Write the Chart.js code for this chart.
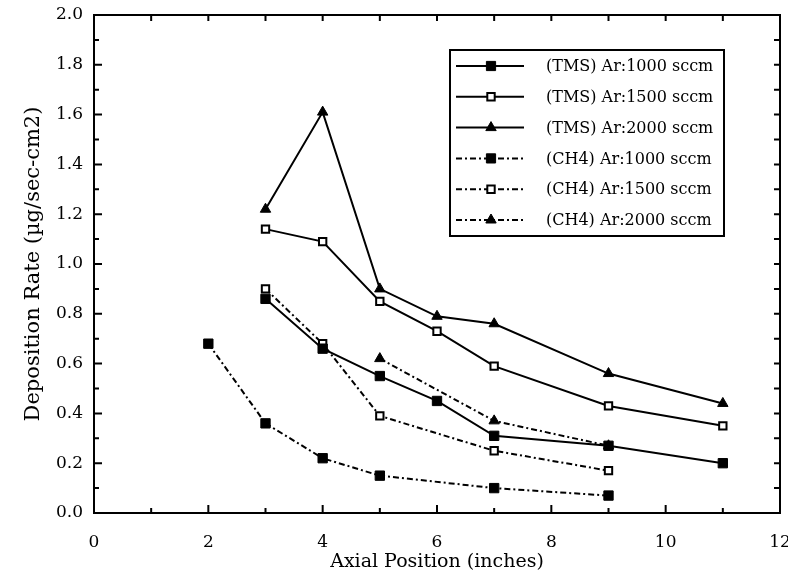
<!DOCTYPE html>
<html>
<head>
<meta charset="utf-8">
<script src="https://cdn.jsdelivr.net/npm/chart.js@4.4.1/dist/chart.umd.min.js"></script>
<style>
  body { margin: 0; background: #fff; }
  canvas { display: block; }
</style>
</head>
<body>
<canvas id="depChart" width="788" height="577"></canvas>
<script>
// values
var posTMS = [3, 4, 5, 6, 7, 9, 11];
var tms1000 = [0.86, 0.66, 0.55, 0.45, 0.31, 0.27, 0.20];
var tms1500 = [1.14, 1.09, 0.85, 0.73, 0.59, 0.43, 0.35];
var tms2000 = [1.22, 1.61, 0.90, 0.79, 0.76, 0.56, 0.44];

var posCH4_1000 = [2, 3, 4, 5, 7, 9];
var ch4_1000 = [0.68, 0.36, 0.22, 0.15, 0.10, 0.07];
var posCH4_1500 = [3, 4, 5, 7, 9];
var ch4_1500 = [0.90, 0.68, 0.39, 0.25, 0.17];
var posCH4_2000 = [5, 7, 9];
var ch4_2000 = [0.62, 0.37, 0.27];

var seriesLabels = [
    '(TMS) Ar:1000 sccm', '(TMS) Ar:1500 sccm', '(TMS) Ar:2000 sccm',
    '(CH4) Ar:1000 sccm', '(CH4) Ar:1500 sccm', '(CH4) Ar:2000 sccm'
];
var xTicks = [0, 2, 4, 6, 8, 10, 12];
var yTicks = [0.0, 0.2, 0.4, 0.6, 0.8, 1.0, 1.2, 1.4, 1.6, 1.8, 2.0];

var FONT = 'DejaVu Serif';
var DASHDOT = [6, 3, 2, 3];

function pts(xs, ys) {
    return xs.map(function (x, i) { return {x: x, y: ys[i]}; });
}

function makeSet(label, xs, ys, style, fill, dashed) {
    var hollow = fill === '#fff';
    return {
        label: label,
        data: pts(xs, ys),
        borderColor: '#000',
        borderWidth: 2,
        borderDash: dashed ? DASHDOT : [],
        pointStyle: style,
        pointRadius: style === 'triangle' ? 6 : (hollow ? 5.2 : 6.6),
        pointBackgroundColor: fill,
        pointBorderColor: '#000',
        pointBorderWidth: hollow ? 2 : 1,
        fill: false,
        tension: 0
    };
}

var datasets = [
    makeSet(seriesLabels[0], posTMS, tms1000, 'rect', '#000', false),
    makeSet(seriesLabels[1], posTMS, tms1500, 'rect', '#fff', false),
    makeSet(seriesLabels[2], posTMS, tms2000, 'triangle', '#000', false),
    makeSet(seriesLabels[3], posCH4_1000, ch4_1000, 'rect', '#000', true),
    makeSet(seriesLabels[4], posCH4_1500, ch4_1500, 'rect', '#fff', true),
    makeSet(seriesLabels[5], posCH4_2000, ch4_2000, 'triangle', '#000', true)
];

function drawMarker(ctx, style, fill, x, y) {
    ctx.save();
    ctx.setLineDash([]);
    ctx.fillStyle = fill;
    ctx.strokeStyle = '#000';
    ctx.beginPath();
    if (style === 'triangle') {
        ctx.lineWidth = 1;
        ctx.moveTo(x, y - 6);
        ctx.lineTo(x + 5.2, y + 3);
        ctx.lineTo(x - 5.2, y + 3);
        ctx.closePath();
    } else if (fill === '#fff') {
        ctx.lineWidth = 2;
        ctx.rect(x - 3.7, y - 3.7, 7.4, 7.4);
    } else {
        ctx.lineWidth = 1;
        ctx.rect(x - 4.6, y - 4.6, 9.2, 9.2);
    }
    ctx.fill();
    ctx.stroke();
    ctx.restore();
}

// frame, inward ticks and boxed legend
var framePlugin = {
    id: 'frame',
    afterDraw: function (chart) {
        var ctx = chart.ctx;
        var a = chart.chartArea;
        var xs = chart.scales.x, ys = chart.scales.y;
        var i, v, p;
        ctx.save();
        ctx.strokeStyle = '#000';
        ctx.lineWidth = 2;
        ctx.strokeRect(a.left, a.top, a.right - a.left, a.bottom - a.top);

        ctx.beginPath();
        for (i = 0; i <= 12; i++) {
            p = xs.getPixelForValue(i);
            ctx.moveTo(p, a.bottom);
            ctx.lineTo(p, a.bottom - (i % 2 === 0 ? 8 : 5));
            ctx.moveTo(p, a.top);
            ctx.lineTo(p, a.top + 6);
        }
        for (i = 0; i <= 20; i++) {
            v = i / 10;
            p = ys.getPixelForValue(v);
            ctx.moveTo(a.left, p);
            ctx.lineTo(a.left + (i % 2 === 0 ? 8 : 5), p);
            ctx.moveTo(a.right, p);
            ctx.lineTo(a.right - 6, p);
        }
        ctx.stroke();

        // legend box
        var bx = 450, by = 50, bw = 274, bh = 186;
        ctx.fillStyle = '#fff';
        ctx.fillRect(bx, by, bw, bh);
        ctx.lineWidth = 2;
        ctx.strokeRect(bx, by, bw, bh);
        ctx.font = '16px "' + FONT + '"';
        ctx.textBaseline = 'middle';
        ctx.textAlign = 'left';
        chart.data.datasets.forEach(function (ds, k) {
            var y = by + 16 + k * 30.8;
            ctx.beginPath();
            ctx.lineWidth = 2;
            ctx.setLineDash(ds.borderDash);
            ctx.moveTo(456, y);
            ctx.lineTo(524, y);
            ctx.stroke();
            drawMarker(ctx, ds.pointStyle, ds.pointBackgroundColor, 491, y);
            ctx.setLineDash([]);
            ctx.fillStyle = '#000';
            ctx.fillText(ds.label, 546, y + 1);
        });
        ctx.restore();
    }
};

var ctx = document.getElementById('depChart');
var depChart = new Chart(ctx, {
    type: 'line',
    data: { datasets: datasets },
    options: {
        responsive: false,
        animation: false,
        events: [],
        layout: { padding: { top: 15, right: 8, left: 0, bottom: 0 } },
        plugins: { legend: { display: false }, tooltip: { enabled: false } },
        scales: {
            x: {
                type: 'linear',
                min: 0,
                max: 12,
                afterFit: function (s) {
                    s.height = 64;
                    s.paddingLeft = 0;
                    s.paddingRight = 0;
                },
                afterBuildTicks: function (s) {
                    s.ticks = xTicks.map(function (v) { return {value: v}; });
                },
                grid: { display: false, drawTicks: false },
                border: { display: false },
                ticks: {
                    color: '#000',
                    padding: 19,
                    maxRotation: 0,
                    font: { family: FONT, size: 17 }
                },
                title: {
                    display: true,
                    text: 'Axial Position (inches)',
                    color: '#000',
                    font: { family: FONT, size: 19, lineHeight: '22px' }
                }
            },
            y: {
                min: 0,
                max: 2,
                afterFit: function (s) {
                    s.width = 94;
                    s.paddingTop = 0;
                    s.paddingBottom = 0;
                },
                afterBuildTicks: function (s) {
                    s.ticks = yTicks.map(function (v) { return {value: v}; });
                },
                grid: { display: false, drawTicks: false },
                border: { display: false },
                ticks: {
                    color: '#000',
                    padding: 11,
                    font: { family: FONT, size: 17 },
                    callback: function (v) { return Number(v).toFixed(1); }
                },
                title: {
                    display: true,
                    text: 'Deposition Rate (µg/sec-cm2)',
                    color: '#000',
                    font: { family: FONT, size: 21, lineHeight: '60px' }
                }
            }
        }
    },
    plugins: [framePlugin]
});
</script>
</body>
</html>
